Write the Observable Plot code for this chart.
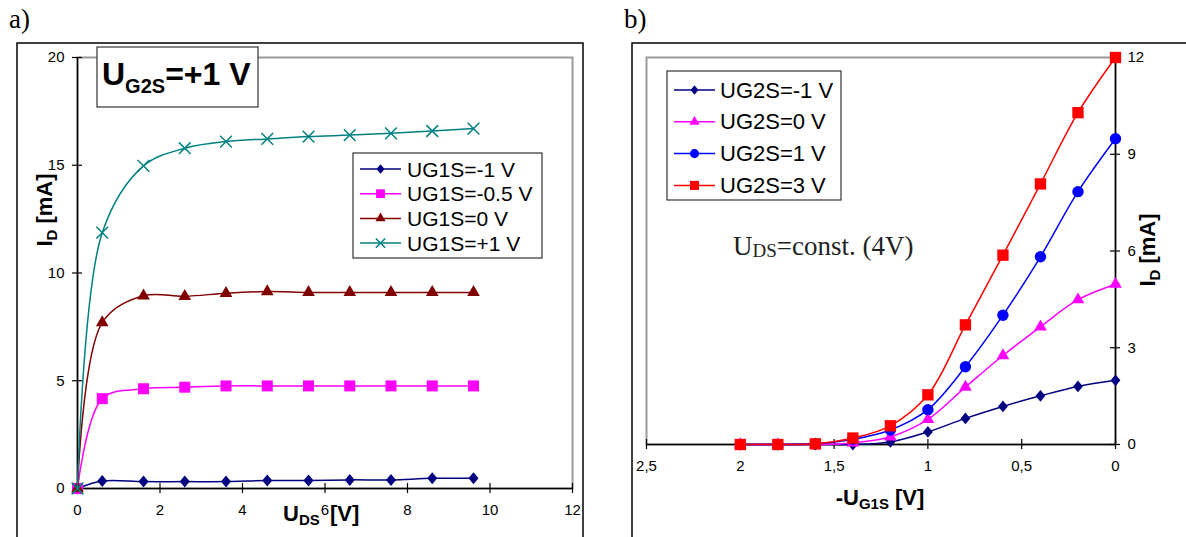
<!DOCTYPE html>
<html><head><meta charset="utf-8">
<script src="https://cdn.jsdelivr.net/npm/d3@7"></script>
<script src="https://cdn.jsdelivr.net/npm/@observablehq/plot@0.6"></script>
<style>
html,body{margin:0;padding:0;background:#fff;}
#wrap{position:relative;width:1186px;height:537px;overflow:hidden;background:#fff;}
#wrap svg{position:absolute;top:0;}
</style></head><body><div id="wrap"></div>
<script>
// ---------- data: panel a ----------
const udsA = [0, 0.6, 1.6, 2.6, 3.6, 4.6, 5.6, 6.6, 7.6, 8.6, 9.6];
const namesA = ["UG1S=-1 V", "UG1S=-0.5 V", "UG1S=0 V", "UG1S=+1 V"];
const idA_m1  = [0, 0.35, 0.32, 0.32, 0.32, 0.37, 0.37, 0.40, 0.40, 0.47, 0.47];
const idA_m05 = [0, 4.17, 4.63, 4.70, 4.76, 4.76, 4.76, 4.76, 4.76, 4.76, 4.76];
const idA_0   = [0, 7.70, 8.94, 8.92, 9.06, 9.14, 9.10, 9.10, 9.10, 9.10, 9.10];
const idA_p1  = [0, 11.87, 14.97, 15.79, 16.10, 16.22, 16.33, 16.40, 16.48, 16.59, 16.70];
const xTicksA = [0, 2, 4, 6, 8, 10, 12];
const yTicksA = [0, 5, 10, 15, 20];

// ---------- data: panel b ----------
const ug1sB = [2, 1.8, 1.6, 1.4, 1.2, 1.0, 0.8, 0.6, 0.4, 0.2, 0];
const namesB = ["UG2S=-1 V", "UG2S=0 V", "UG2S=1 V", "UG2S=3 V"];
const idB_m1 = [0, 0, 0, 0, 0.08, 0.39, 0.81, 1.18, 1.51, 1.80, 1.99];
const idB_0  = [0, 0, 0, 0.05, 0.24, 0.78, 1.78, 2.76, 3.65, 4.49, 4.97];
const idB_1  = [0, 0, 0.02, 0.16, 0.45, 1.08, 2.41, 4.01, 5.82, 7.84, 9.48];
const idB_3  = [0, 0, 0.02, 0.20, 0.58, 1.54, 3.71, 5.87, 8.08, 10.29, 12.0];
const xTicksB = [0, 0.5, 1, 1.5, 2, 2.5];
const yTicksB = [0, 3, 6, 9, 12];

// ---------- styles ----------
const FONT = "'Liberation Sans', Arial, sans-serif";
const SERIF = "'Liberation Serif', 'Times New Roman', serif";
const diamondSym = {draw(ctx, size) {
  const r = Math.sqrt(size / Math.PI);
  ctx.moveTo(0, -1.2 * r); ctx.lineTo(r, 0); ctx.lineTo(0, 1.2 * r); ctx.lineTo(-r, 0); ctx.closePath();
}};
const SYM = {diamond: diamondSym, square: d3.symbolSquare, triangle: d3.symbolTriangle, circle: d3.symbolCircle, times: d3.symbolTimes};
const styleA = [
  {color: "#000080", symbol: "diamond", r: 5.0, filled: true},
  {color: "#FF00FF", symbol: "square", r: 6.2, filled: true},
  {color: "#800000", symbol: "triangle", r: 4.7, filled: true},
  {color: "#008080", symbol: "times", r: 5.4, filled: false}
];
const styleB = [
  {color: "#000080", symbol: "diamond", r: 4.9, filled: true},
  {color: "#FF00FF", symbol: "triangle", r: 4.7, filled: true},
  {color: "#0000FF", symbol: "circle", r: 5.7, filled: true},
  {color: "#FF0000", symbol: "square", r: 6.4, filled: true}
];

const valuesA = [idA_m1, idA_m05, idA_0, idA_p1];
const valuesB = [idB_m1, idB_0, idB_1, idB_3];
const rowsA = namesA.flatMap((n, i) => udsA.map((x, j) => ({series: n, x, y: valuesA[i][j]})));
const rowsB = namesB.flatMap((n, i) => ug1sB.map((x, j) => ({series: n, x, y: valuesB[i][j]})));

function seriesMarks(rows, names, styles) {
  return names.flatMap((n, i) => {
    const s = styles[i];
    const d = rows.filter(r => r.series === n);
    return [
      Plot.line(d, {x: "x", y: "y", stroke: s.color, strokeWidth: 1.5, curve: "catmull-rom"}),
      Plot.dot(d, {x: "x", y: "y", symbol: SYM[s.symbol], r: s.r,
        fill: s.filled ? s.color : "none", stroke: s.filled ? "none" : s.color, strokeWidth: 1.5})
    ];
  });
}

// ---------- panel a ----------
const A = {w: 600, h: 537, l: 77, r: 28, t: 57, b: 49};
const pwA = A.w - A.l - A.r, phA = A.h - A.t - A.b;
const plotA = Plot.plot({
  width: A.w, height: A.h,
  marginLeft: A.l, marginRight: A.r, marginTop: A.t, marginBottom: A.b,
  x: {domain: [0, 12]},
  y: {domain: [0, 20]},
  style: {fontFamily: FONT, fontSize: "15px", color: "#000", background: "transparent"},
  marks: [
    Plot.frame({stroke: "#9a9a9a", strokeWidth: 2}),
    Plot.ruleX([0], {stroke: "#000", strokeWidth: 1.5}),
    Plot.ruleY([0], {stroke: "#000", strokeWidth: 1.5}),
    Plot.tickX(xTicksA, {x: d => d, insetTop: phA - 5, insetBottom: -5, stroke: "#000", strokeWidth: 1.2}),
    Plot.tickY(yTicksA, {y: d => d, insetLeft: -5, insetRight: pwA - 5, stroke: "#000", strokeWidth: 1.2}),
    Plot.axisX({ticks: xTicksA, tickSize: 0, tickPadding: 16, label: null, tickFormat: d => String(d)}),
    Plot.axisY({ticks: yTicksA, tickSize: 0, tickPadding: 13, label: null, tickFormat: d => String(d)}),
    ...seriesMarks(rowsA, namesA, styleA)
  ]
});

// ---------- panel b ----------
const B = {w: 586, h: 537, l: 46, r: 71, t: 57, b: 93};
const pwB = B.w - B.l - B.r, phB = B.h - B.t - B.b;
const fmtComma = d => String(d).replace(".", ",");
const plotB = Plot.plot({
  width: B.w, height: B.h,
  marginLeft: B.l, marginRight: B.r, marginTop: B.t, marginBottom: B.b,
  x: {domain: [0, 2.5], reverse: true},
  y: {domain: [0, 12]},
  style: {fontFamily: FONT, fontSize: "15px", color: "#000", background: "transparent"},
  marks: [
    Plot.frame({stroke: "#9a9a9a", strokeWidth: 2}),
    Plot.ruleX([0], {stroke: "#000", strokeWidth: 1.5}),
    Plot.ruleY([0], {stroke: "#000", strokeWidth: 1.5}),
    Plot.tickX(xTicksB, {x: d => d, insetTop: phB - 5, insetBottom: -5, stroke: "#000", strokeWidth: 1.2}),
    Plot.tickY(yTicksB, {y: d => d, insetLeft: pwB - 5, insetRight: -5, stroke: "#000", strokeWidth: 1.2}),
    Plot.axisX({ticks: xTicksB, tickSize: 0, tickPadding: 16, label: null, tickFormat: fmtComma}),
    Plot.axisY({anchor: "right", ticks: yTicksB, tickSize: 0, tickPadding: 12, label: null, tickFormat: d => String(d)}),
    ...seriesMarks(rowsB, namesB, styleB)
  ]
});

const wrap = document.getElementById("wrap");
plotA.style.left = "0px";
plotB.style.left = "600px";
wrap.appendChild(plotA);
wrap.appendChild(plotB);

// ---------- decorations ----------
function richText(g, {x, y, parts, anchor = "start", family = FONT, weight = "normal", rotate = 0, fill = "#000"}) {
  const t = g.append("text")
    .attr("transform", `translate(${x},${y}) rotate(${rotate})`)
    .attr("text-anchor", anchor).attr("font-family", family).attr("font-weight", weight).attr("fill", fill);
  parts.forEach(([s, size, dy]) => t.append("tspan").attr("font-size", size).attr("dy", dy || 0).text(s));
  return t;
}
function legend(g, {x, y, w, h, rows0, step, names, styles, fontSize, lineX0, lineX1, textX, scale}) {
  g.append("rect").attr("x", x).attr("y", y).attr("width", w).attr("height", h)
    .attr("fill", "#fff").attr("stroke", "#333").attr("stroke-width", 1.2);
  names.forEach((n, i) => {
    const s = styles[i];
    const cy = rows0 + i * step;
    g.append("line").attr("x1", lineX0).attr("x2", lineX1).attr("y1", cy).attr("y2", cy)
      .attr("stroke", s.color).attr("stroke-width", 1.5);
    const rr = s.r * scale;
    g.append("path").attr("d", d3.symbol(SYM[s.symbol], Math.PI * rr * rr)())
      .attr("transform", `translate(${(lineX0 + lineX1) / 2},${cy})`)
      .attr("fill", s.filled ? s.color : "none").attr("stroke", s.filled ? "none" : s.color).attr("stroke-width", 1.5);
    g.append("text").attr("x", textX).attr("y", cy + 7.5).attr("font-family", FONT)
      .attr("text-anchor", "start").attr("font-size", fontSize).attr("fill", "#000").text(n);
  });
}

const gA = d3.select(plotA);
gA.insert("rect", ":first-child").attr("x", 17).attr("y", 43).attr("width", 566).attr("height", 700)
  .attr("fill", "none").attr("stroke", "#000").attr("stroke-width", 1.5);
const decoA = gA.append("g");
richText(decoA, {x: 9, y: 28, parts: [["a)", 27]], family: SERIF});
decoA.append("rect").attr("x", 97).attr("y", 47).attr("width", 161).attr("height", 60)
  .attr("fill", "#fff").attr("stroke", "#333").attr("stroke-width", 1.2);
richText(decoA, {x: 102, y: 85, weight: "bold", parts: [["U", 32], ["G2S", 20, 8], ["=+1 V", 32, -8]]});
legend(decoA, {x: 353, y: 153, w: 189, h: 105, rows0: 169, step: 24.7, names: namesA, styles: styleA,
  fontSize: 21, lineX0: 360, lineX1: 401, textX: 407, scale: 0.8});
richText(decoA, {x: 52, y: 210, anchor: "middle", rotate: -90, weight: "bold", parts: [["I", 22], ["D", 15, 5], [" [mA]", 22, -5]]});
richText(decoA, {x: 283, y: 521, weight: "bold", parts: [["U", 22], ["DS", 15, 4]]});
richText(decoA, {x: 330, y: 521, weight: "bold", parts: [["[V]", 22]]});

const gB = d3.select(plotB);
gB.insert("rect", ":first-child").attr("x", 32).attr("y", 43).attr("width", 700).attr("height", 700)
  .attr("fill", "none").attr("stroke", "#000").attr("stroke-width", 1.5);
const decoB = gB.append("g");
richText(decoB, {x: 24, y: 28, parts: [["b)", 27]], family: SERIF});
legend(decoB, {x: 67, y: 71, w: 174, h: 129, rows0: 90, step: 31.8, names: namesB, styles: styleB,
  fontSize: 22, lineX0: 74, lineX1: 115, textX: 120, scale: 0.8});
richText(decoB, {x: 133, y: 255, family: SERIF, fill: "#222", parts: [["U", 27], ["DS", 19, 2], ["=const. (4V)", 27, -2]]});
richText(decoB, {x: 555, y: 250, anchor: "middle", rotate: -90, weight: "bold", parts: [["I", 22], ["D", 15, 5], [" [mA]", 22, -5]]});
richText(decoB, {x: 280, y: 505, anchor: "middle", weight: "bold", parts: [["-U", 22], ["G1S", 15, 4], [" [V]", 22, -4]]});
</script></body></html>
